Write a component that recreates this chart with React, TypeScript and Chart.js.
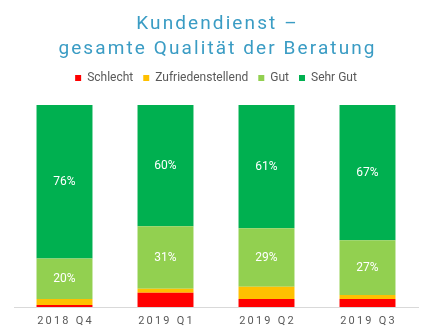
import React, { useEffect, useRef } from "react";
import { Chart, registerables } from "chart.js";

Chart.register(...registerables);

const categories = ["2018 Q4", "2019 Q1", "2019 Q2", "2019 Q3"];
const schlecht = [1, 7, 4, 4];
const zufrieden = [3, 2, 6, 2];
const gut = [20, 31, 29, 27];
const sehrGut = [76, 60, 61, 67];
const titleLines = ["Kundendienst –", "gesamte Qualität der Beratung"];

const overlayPlugin = {
  id: "overlay",
  beforeUpdate(chart: any) {
    const legend = chart.legend;
    if (legend && !legend.__patched) {
      const orig = legend.fit;
      legend.fit = function () {
        orig.call(this);
        this.height += 11;
      };
      legend.__patched = true;
    }
  },
  afterDraw(chart: any) {
    const ctx = chart.ctx;
    ctx.save();
    // Title
    ctx.fillStyle = "#3A9CC4";
    ctx.font = "19px Roboto";
    ctx.textAlign = "center";
    ctx.textBaseline = "alphabetic";
    (ctx as any).letterSpacing = "2.1px";
    const cx = chart.width / 2;
    ctx.fillText(titleLines[0], cx + 1, 21);
    ctx.fillText(titleLines[1], cx + 1, 46);
    // X labels
    const xs = chart.scales.x;
    ctx.fillStyle = "#595959";
    ctx.font = "11px Roboto";
    (ctx as any).letterSpacing = "2.2px";
    ctx.textBaseline = "middle";
    categories.forEach((c, i) => {
      ctx.fillText(c, xs.getPixelForValue(i) + 1, chart.chartArea.bottom + 14);
    });
    // Data labels
    (ctx as any).letterSpacing = "0px";
    ctx.fillStyle = "#FFFFFF";
    ctx.font = "12px Roboto";
    [2, 3].forEach((di) => {
      const meta = chart.getDatasetMeta(di);
      const data = chart.data.datasets[di].data as number[];
      meta.data.forEach((bar: any, i: number) => {
        const y = (bar.y + bar.base) / 2;
        ctx.fillText(data[i] + "%", bar.x, y);
      });
    });
    ctx.restore();
  },
};

export default function App() {
  const ref = useRef<HTMLCanvasElement>(null);
  useEffect(() => {
    if (!ref.current) return;
    const chart = new Chart(ref.current, {
      type: "bar",
      data: {
        labels: categories,
        datasets: [
          { label: "Schlecht", data: schlecht, backgroundColor: "#FF0000" },
          { label: "Zufriedenstellend", data: zufrieden, backgroundColor: "#FFC000" },
          { label: "Gut", data: gut, backgroundColor: "#92D050" },
          { label: "Sehr Gut", data: sehrGut, backgroundColor: "#00B050" },
        ],
      },
      options: {
        animation: false,
        responsive: true,
        maintainAspectRatio: false,
        layout: { padding: { top: 54, bottom: 21, left: 6, right: 7 } },
        datasets: { bar: { barPercentage: 1, categoryPercentage: 0.554 } },
        plugins: {
          title: { display: false },
          tooltip: { enabled: false },
          legend: {
            position: "top",
            labels: {
              boxWidth: 6,
              boxHeight: 6,
              padding: 10,
              color: "#595959",
              font: { family: "Roboto", size: 12 },
            },
          },
        },
        scales: {
          x: {
            stacked: true,
            grid: { display: false, drawTicks: false },
            border: { display: true, color: "#D9D9D9", width: 1 },
            ticks: { display: false },
          },
          y: {
            stacked: true,
            display: false,
            min: 0,
            max: 100,
          },
        },
      },
      plugins: [overlayPlugin],
    });
    return () => chart.destroy();
  }, []);
  return (
    <div style={{ width: 417, height: 320, position: "relative" }}>
      <canvas ref={ref} />
    </div>
  );
}
